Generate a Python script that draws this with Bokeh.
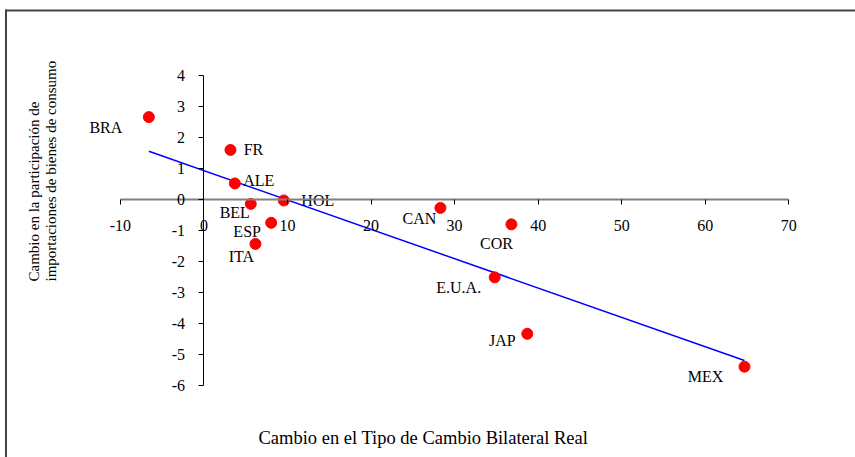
import numpy as np
from bokeh.plotting import figure
from bokeh.models import (ColumnDataSource, LinearAxis, FixedTicker, Label,
                          BoxAnnotation, Range1d)
from bokeh.core.properties import value
from bokeh.embed import file_html
from bokeh.resources import INLINE

# ---- data ----
countries = ["BRA", "FR", "ALE", "BEL", "HOL", "ESP", "ITA", "CAN", "COR", "E.U.A.", "JAP", "MEX"]
tcr_change = [-6.6, 3.17, 3.69, 5.6, 9.55, 8.04, 6.16, 28.3, 36.8, 34.8, 38.7, 64.7]
share_change = [2.65, 1.59, 0.51, -0.15, -0.04, -0.76, -1.44, -0.28, -0.81, -2.52, -4.34, -5.40]
x_ticks = [-10, 0, 10, 20, 30, 40, 50, 60, 70]
y_ticks = [-6, -5, -4, -3, -2, -1, 0, 1, 2, 3, 4]
x_title = "Cambio en el Tipo de Cambio Bilateral Real"
y_title_1 = "Cambio en la participación de"
y_title_2 = "importaciones de bienes de consumo"

# label offsets (pixels, layout only)
label_dx = [-43, 23, 24, -16, 34, -24, -14, -21, -15, -36, -25, -39]
label_dy = [10, 0, -3, 9, 0, 9, 13, 11, 19, 10, 7, 10]

FONT = "Liberation Serif"
W, H = 855, 457

p = figure(width=W, height=H, output_backend="svg", toolbar_location=None,
           x_axis_location=None, y_axis_location=None, min_border=0,
           x_range=Range1d(-24.36, 77.99), y_range=Range1d(-8.33, 6.41))
p.outline_line_color = None
p.grid.visible = False

# border (left and top edges visible)
p.add_layout(BoxAnnotation(left=4.5, right=6.5, bottom=-100, top=H - 9,
                           left_units="screen", right_units="screen",
                           top_units="screen", bottom_units="screen",
                           fill_color="#444444", fill_alpha=1, line_color=None))
p.add_layout(BoxAnnotation(left=4.5, right=W + 100, bottom=H - 11, top=H - 9,
                           left_units="screen", right_units="screen",
                           top_units="screen", bottom_units="screen",
                           fill_color="#444444", fill_alpha=1, line_color=None))

# axes crossing at origin
xa = LinearAxis(fixed_location=0, ticker=FixedTicker(ticks=x_ticks), bounds=(-10, 70))
xa.axis_line_color = "#808080"
xa.axis_line_width = 2
xa.major_tick_out = 5
xa.major_tick_in = 0
xa.major_tick_line_color = "black"
xa.minor_tick_line_color = None
xa.major_label_standoff = 16
xa.major_label_text_font = FONT
xa.major_label_text_font_size = "16px"
xa.major_label_text_color = "black"
xa.major_label_overrides = {t: str(t) for t in x_ticks}
p.add_layout(xa, "below")

ya = LinearAxis(fixed_location=0, ticker=FixedTicker(ticks=y_ticks), bounds=(-6, 4))
ya.axis_line_color = "black"
ya.axis_line_width = 1
ya.major_tick_out = 5
ya.major_tick_in = 0
ya.major_tick_line_color = "black"
ya.minor_tick_line_color = None
ya.major_label_standoff = 14
ya.major_label_text_font = FONT
ya.major_label_text_font_size = "16px"
ya.major_label_text_color = "black"
ya.major_label_overrides = {t: str(t) for t in y_ticks}
p.add_layout(ya, "left")

# trend line (OLS)
slope, intercept = np.polyfit(tcr_change, share_change, 1)
xl = [min(tcr_change), max(tcr_change)]
yl = [slope * v + intercept for v in xl]
p.line(xl, yl, line_color="#0000FF", line_width=1.5)

src = ColumnDataSource(dict(x=tcr_change, y=share_change, name=countries,
                            dx=label_dx, dy=label_dy))
p.scatter("x", "y", source=src, size=11, fill_color="#FF0000", line_color="#FF0000")
p.text("x", "y", text="name", source=src, x_offset="dx", y_offset="dy",
       text_align="center", text_baseline="middle",
       text_font=value(FONT), text_font_size="16px", text_color="black")

# axis titles
p.add_layout(Label(x=258, y=H - 437, x_units="screen", y_units="screen",
                   text=x_title, text_font=FONT, text_font_size="18.5px",
                   text_align="left", text_baseline="alphabetic", text_color="black"))
p.add_layout(Label(x=33, y=H - 281, x_units="screen", y_units="screen", angle=np.pi / 2,
                   text=y_title_1, text_font=FONT, text_font_size="15px",
                   text_align="left", text_baseline="alphabetic", text_color="black"))
p.add_layout(Label(x=50, y=H - 281, x_units="screen", y_units="screen", angle=np.pi / 2,
                   text=y_title_2, text_font=FONT, text_font_size="15px",
                   text_align="left", text_baseline="alphabetic", text_color="black"))

open("out.html", "w").write(file_html(p, INLINE))
